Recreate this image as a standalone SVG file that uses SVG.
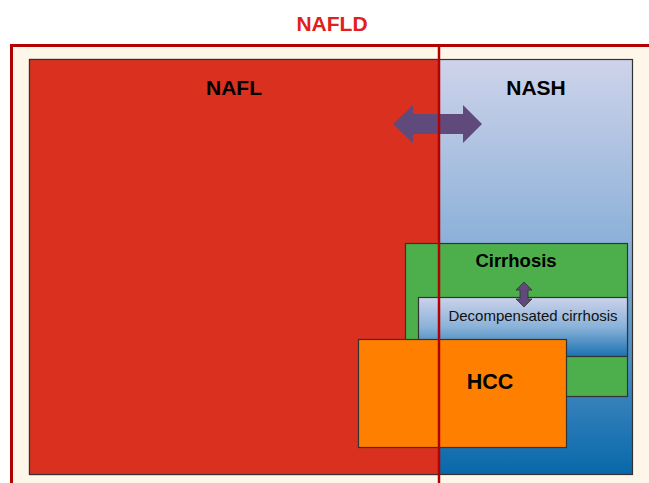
<svg xmlns="http://www.w3.org/2000/svg" width="649" height="483" viewBox="0 0 649 483">
<defs>
<linearGradient id="gNash" x1="0" y1="0" x2="0" y2="1">
<stop offset="0" stop-color="#cfd3ea"/>
<stop offset="0.5" stop-color="#82acd6"/>
<stop offset="1" stop-color="#0868aa"/>
</linearGradient>
<linearGradient id="gDec" x1="0" y1="0" x2="0" y2="1">
<stop offset="0" stop-color="#ccd2ea"/>
<stop offset="0.5" stop-color="#8ab2d8"/>
<stop offset="1" stop-color="#1a72b2"/>
</linearGradient>
<style>
.lbl{font-family:"Liberation Sans",Arial,sans-serif;font-weight:bold;fill:#000;text-anchor:middle}
.box{stroke:#333;stroke-width:1.2}
.arrow{fill:#604a7c}
</style>
</defs>
<rect width="649" height="483" fill="#fff"/>
<g id="nafld">
<rect x="11.5" y="45.5" width="650" height="450" fill="#fff6ea" stroke="#b30000" stroke-width="3"/>
<text x="332" y="31" class="lbl" style="fill:#e0201c;font-size:21px">NAFLD</text>
</g>
<g id="nash">
<rect x="29.5" y="59.5" width="603" height="415" fill="url(#gNash)" class="box"/>
<text x="536" y="95" class="lbl" style="font-size:21px">NASH</text>
</g>
<g id="nafl">
<rect x="29.5" y="59.5" width="409.5" height="415" fill="#d9301f" class="box"/>
<text x="234" y="95" class="lbl" style="font-size:21px">NAFL</text>
</g>
<g id="cirrhosis">
<rect x="405.5" y="243.5" width="222" height="153" fill="#4caf4c" class="box"/>
<text x="516" y="267" class="lbl" style="font-size:18.5px">Cirrhosis</text>
</g>
<g id="decompensated">
<rect x="418.5" y="297.5" width="209" height="59" fill="url(#gDec)" class="box"/>
<text x="533" y="321" class="lbl" style="font-weight:normal;font-size:15px;fill:#111">Decompensated cirrhosis</text>
</g>
<g id="hcc">
<rect x="358.5" y="339.5" width="208" height="108" fill="#ff8000" class="box"/>
<text x="490" y="389" class="lbl" style="font-size:21.5px">HCC</text>
</g>
<g id="connectors">
<path class="arrow" d="M393,124 L413,105 L413,114 L463,114 L463,105 L482,124 L463,143 L463,134 L413,134 L413,143 Z"/>
<path class="arrow" d="M524,282 L532,290 L528,290 L528,299 L532,299 L524,307 L516,299 L520,299 L520,290 L516,290 Z" stroke="#333" stroke-width="0.8"/>
<line x1="439" y1="45" x2="439" y2="483" stroke="#b30000" stroke-width="2.5"/>
</g>
</svg>
